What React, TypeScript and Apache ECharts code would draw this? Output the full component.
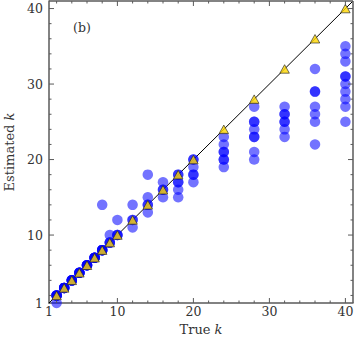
import React, { useEffect, useRef } from "react";
import * as echarts from "echarts";

const trueK = [2, 3, 4, 5, 6, 7, 8, 9, 10, 12, 14, 16, 18, 20, 24, 28, 32, 36, 40];
const estimatesByK: number[][] = [
  [2, 2, 2, 2, 2, 2, 1],
  [3, 3, 3, 3, 3, 3],
  [4, 4, 4, 4, 4, 4],
  [5, 5, 5, 5, 5, 5],
  [6, 6, 6, 6, 6, 6],
  [7, 7, 7, 7, 7, 7],
  [8, 8, 8, 8, 8, 14],
  [9, 9, 9, 10],
  [10, 10, 10, 12],
  [12, 12, 14, 11],
  [14, 14, 15, 13, 18],
  [16, 16, 17, 15],
  [18, 18, 17, 17, 16, 15],
  [20, 20, 19, 18, 18, 17],
  [23, 22, 21, 21, 20, 20, 19],
  [27, 25, 25, 24, 23, 23, 21, 20],
  [27, 26, 26, 25, 25, 24, 23],
  [32, 29, 29, 27, 26, 25, 22],
  [35, 34, 33, 31, 31, 30, 29, 28, 27, 25],
];
const axisMin = 1;
const axisMax = 41;
const majorTicks = [10, 20, 30, 40];
const minorTicks = [2, 4, 6, 8, 12, 14, 16, 18, 22, 24, 26, 28, 32, 34, 36, 38];
const tickLabels = [1, 10, 20, 30, 40];
const diagonal = [
  [1, 1],
  [41, 41],
];

const FONT = "DejaVu Serif";
const AXIS_COLOR = "#5a5a5a";
const TEXT_COLOR = "#333";

export default function App() {
  const ref = useRef<HTMLDivElement>(null);
  useEffect(() => {
    if (!ref.current) return;
    const chart = echarts.init(ref.current, null, { renderer: "svg" });
    const dots: number[][] = [];
    trueK.forEach((k, i) => estimatesByK[i].forEach((e) => dots.push([k, e])));
    const tris = trueK.map((k) => [k, k]);
    // tick items: [value, value, isMajor, side]; side: 0 bottom, 1 top, 2 left, 3 right
    const tickItems: number[][] = [];
    for (let s = 0; s < 4; s++) {
      majorTicks.forEach((v) => tickItems.push([v, v, 1, s]));
      minorTicks.forEach((v) => tickItems.push([v, v, 0, s]));
    }
    tickItems.push([axisMin, axisMin, 0, 4]);
    tickItems.push([axisMin, axisMin, 0, 5]);

    const axisCommon = {
      type: "value",
      min: axisMin,
      max: axisMax,
      splitLine: { show: false },
      axisTick: { show: false },
      axisLine: { show: true, onZero: false, lineStyle: { color: AXIS_COLOR, width: 1.5 } },
    };
    const nameStyle = {
      fontFamily: FONT,
      fontSize: 13,
      color: TEXT_COLOR,
      rich: { i: { fontFamily: FONT, fontSize: 13, fontStyle: "italic", color: TEXT_COLOR } },
    };

    chart.setOption({
      animation: false,
      grid: { left: 49, right: 1, top: 1, bottom: 41, containLabel: false, outerBoundsMode: "none" },
      xAxis: {
        ...axisCommon,
        position: "bottom",
        axisLabel: { customValues: tickLabels, fontFamily: FONT, fontSize: 12.5, color: TEXT_COLOR, margin: 2 },
        name: "True {i|k}",
        nameLocation: "middle",
        nameGap: 17,
        nameTextStyle: nameStyle,
      },
      yAxis: {
        ...axisCommon,
        position: "left",
        axisLabel: { customValues: tickLabels, fontFamily: FONT, fontSize: 12.5, color: TEXT_COLOR, margin: 6 },
        name: "Estimated {i|k}",
        nameLocation: "middle",
        nameGap: 30,
        nameTextStyle: nameStyle,
      },
      graphic: [
        {
          type: "text",
          left: 73,
          top: 21,
          style: { text: "(b)", fontFamily: FONT, fontSize: 12.5, fill: TEXT_COLOR },
        },
      ],
      series: [
        {
          type: "custom",
          coordinateSystem: "cartesian2d",
          data: tickItems,
          encode: { x: 0, y: 1 },
          silent: true,
          clip: false,
          z: 5,
          renderItem: (params: any, api: any) => {
            const v = api.value(0);
            const major = api.value(2);
            const side = api.value(3);
            const len = major ? 5 : 2.5;
            let x1 = 0, y1 = 0, x2 = 0, y2 = 0;
            let lw = 1;
            if (side === 0) {
              const p = api.coord([v, axisMin]);
              x1 = p[0]; y1 = p[1]; x2 = p[0]; y2 = p[1] - len;
            } else if (side === 1) {
              const p = api.coord([v, axisMax]);
              x1 = p[0]; y1 = p[1]; x2 = p[0]; y2 = p[1] + len;
            } else if (side === 2) {
              const p = api.coord([axisMin, v]);
              x1 = p[0]; y1 = p[1]; x2 = p[0] + len; y2 = p[1];
            } else if (side === 3) {
              const p = api.coord([axisMax, v]);
              x1 = p[0]; y1 = p[1]; x2 = p[0] - len; y2 = p[1];
            } else if (side === 4) {
              const a = api.coord([axisMin, axisMax]);
              const b = api.coord([axisMax, axisMax]);
              x1 = a[0]; y1 = a[1]; x2 = b[0]; y2 = b[1]; lw = 1.5;
            } else {
              const a = api.coord([axisMax, axisMin]);
              const b = api.coord([axisMax, axisMax]);
              x1 = a[0]; y1 = a[1]; x2 = b[0]; y2 = b[1]; lw = 1.5;
            }
            return {
              type: "line",
              shape: { x1, y1, x2, y2 },
              style: { stroke: AXIS_COLOR, lineWidth: lw, fill: null },
            };
          },
        },
        {
          type: "line",
          data: diagonal,
          symbol: "none",
          lineStyle: { color: "#000", width: 1 },
          z: 1,
          silent: true,
        },
        {
          type: "scatter",
          data: dots,
          symbol: "circle",
          symbolSize: 10.5,
          itemStyle: { color: "#0000ff", opacity: 0.55 },
          z: 2,
        },
        {
          type: "scatter",
          data: tris,
          symbol: "triangle",
          symbolSize: [9.5, 8.5],
          itemStyle: { color: "#FFD700", borderColor: "#222", borderWidth: 0.8 },
          z: 3,
        },
      ],
    });
    return () => chart.dispose();
  }, []);
  return <div ref={ref} style={{ position: "absolute", left: 0, top: 0, width: 354, height: 344 }} />;
}
